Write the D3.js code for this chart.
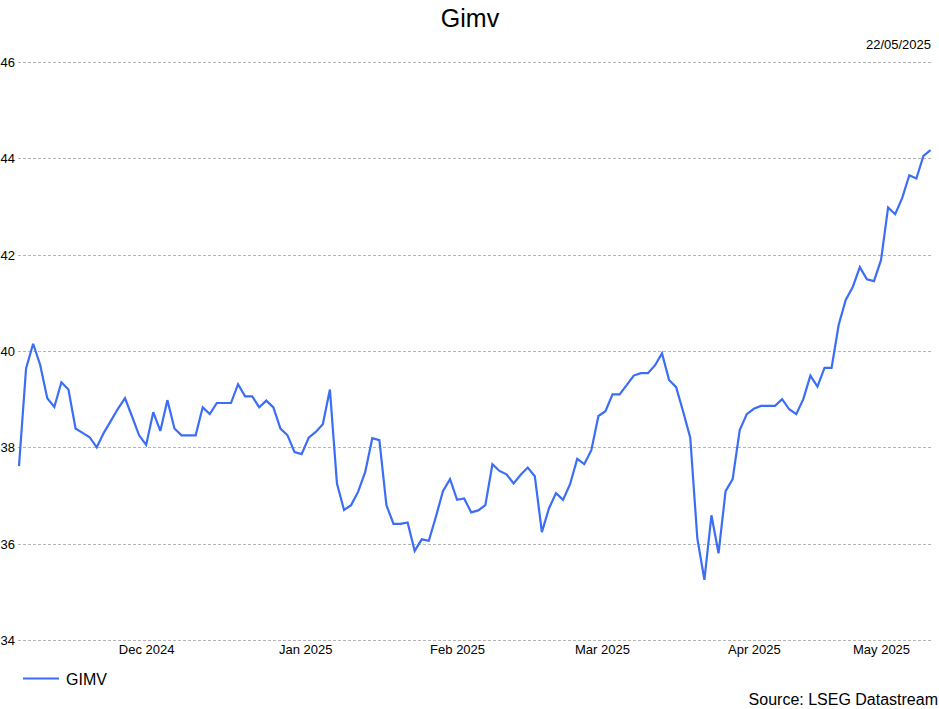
<!DOCTYPE html>
<html><head><meta charset="utf-8">
<script src="https://cdn.jsdelivr.net/npm/d3@7"></script>
<style>body{margin:0;background:#fff}svg{display:block;font-family:Arial,"Liberation Sans",sans-serif}</style>
</head><body><svg id="c" width="939" height="709"></svg>
<script>
const title = "Gimv";
const dateStamp = "22/05/2025";
const seriesName = "GIMV";
const source = "Source: LSEG Datastream";
const startDate = "2024-11-21";
const endDate = "2025-05-21";
const values = [
37.61,39.64,40.15,39.71,39.02,38.84,39.35,39.20,38.39,38.30,
38.21,38.00,38.30,38.55,38.80,39.02,38.64,38.25,38.05,38.73,
38.34,38.98,38.39,38.25,38.25,38.25,38.83,38.69,38.92,38.92,
38.92,39.31,39.06,39.06,38.83,38.97,38.83,38.39,38.25,37.90,
37.86,38.20,38.32,38.48,39.20,37.25,36.70,36.80,37.08,37.49,
38.19,38.15,36.80,36.41,36.41,36.44,35.85,36.09,36.06,36.56,
37.09,37.34,36.91,36.94,36.65,36.69,36.80,37.65,37.51,37.44,
37.25,37.43,37.58,37.40,36.24,36.73,37.05,36.91,37.24,37.76,
37.65,37.94,38.65,38.75,39.10,39.10,39.29,39.49,39.54,39.54,
39.70,39.95,39.40,39.25,38.74,38.20,36.11,35.25,36.59,35.80,
37.09,37.34,38.36,38.69,38.80,38.86,38.86,38.86,39.00,38.79,
38.69,39.00,39.49,39.26,39.65,39.65,40.54,41.06,41.33,41.74,
41.49,41.45,41.89,42.98,42.84,43.18,43.65,43.58,44.05,44.17
];
const monthLabels = ["Dec 2024","Jan 2025","Feb 2025","Mar 2025","Apr 2025","May 2025"];
const yTicks = [34,36,38,40,42,44,46];

// weekday categories (Datastream daily series)
const dates = d3.utcDay.range(new Date(startDate+"T00:00:00Z"), d3.utcDay.offset(new Date(endDate+"T00:00:00Z"),1))
  .filter(d => d.getUTCDay() !== 0 && d.getUTCDay() !== 6);
const data = dates.map((d,i) => ({date:d, i, v: values[i]}));

const svg = d3.select("#c");
const x = d3.scaleLinear().domain([0, data.length-1]).range([19, 930.5]);
const y = d3.scaleLinear().domain([34,46]).range([640,62]);

// grid
const grid = svg.append("g");
grid.selectAll("line").data(yTicks).join("line")
  .attr("x1",18).attr("x2",932)
  .attr("y1",d=>Math.round(y(d))+0.5).attr("y2",d=>Math.round(y(d))+0.5)
  .attr("stroke","#b4b4b4").attr("stroke-width",1).attr("stroke-dasharray","3,2");

// y labels
const yAxis = d3.axisLeft(y).tickValues(yTicks).tickSize(0).tickPadding(0).tickFormat(d3.format("d"));
const yg = svg.append("g").attr("transform","translate(15,0)").call(yAxis);
yg.select(".domain").remove();
yg.selectAll("text").attr("font-size",13).attr("font-family","Arial, 'Liberation Sans', sans-serif").attr("fill","#000").attr("dy","0.35em");

// month label positions: centre between first day of month and first day of next month
const fmtM = d3.utcFormat("%b %Y");
const monthIdx = monthLabels.map(lbl => data.filter(p => fmtM(p.date) === lbl).map(p => p.i));
const monthPos = monthIdx.map((arr,k) => {
  const first = arr[0];
  const next = k < monthIdx.length-1 ? monthIdx[k+1][0] : arr[arr.length-1];
  return (first + next)/2;
});
const xAxis = d3.axisBottom(x).tickValues(monthPos).tickSize(0).tickPadding(0)
  .tickFormat((d,k) => monthLabels[k]);
const xg = svg.append("g").attr("transform","translate(0,645)").call(xAxis);
xg.select(".domain").remove();
xg.selectAll("text").attr("font-size",13).attr("font-family","Arial, 'Liberation Sans', sans-serif").attr("fill","#000").attr("dy","0.71em");

// line
const lineColor = "#3b6df5";
svg.append("path").datum(data)
  .attr("fill","none").attr("stroke",lineColor).attr("stroke-width",2.2)
  .attr("stroke-linejoin","miter").attr("stroke-miterlimit",3)
  .attr("d", d3.line().x(d=>x(d.i)).y(d=>y(d.v)));

// title & texts
svg.append("text").attr("x",470).attr("y",27).attr("text-anchor","middle")
  .attr("font-size",25).attr("fill","#000").text(title);
svg.append("text").attr("x",931).attr("y",49).attr("text-anchor","end")
  .attr("font-size",13).attr("fill","#000").text(dateStamp);

// legend
svg.append("line").attr("x1",23).attr("x2",59).attr("y1",678.5).attr("y2",678.5)
  .attr("stroke",lineColor).attr("stroke-width",2.2);
svg.append("text").attr("x",66).attr("y",685).attr("font-size",16).attr("fill","#000").text(seriesName);

svg.append("text").attr("x",938).attr("y",705).attr("text-anchor","end")
  .attr("font-size",16).attr("fill","#000").text(source);
</script></body></html>
